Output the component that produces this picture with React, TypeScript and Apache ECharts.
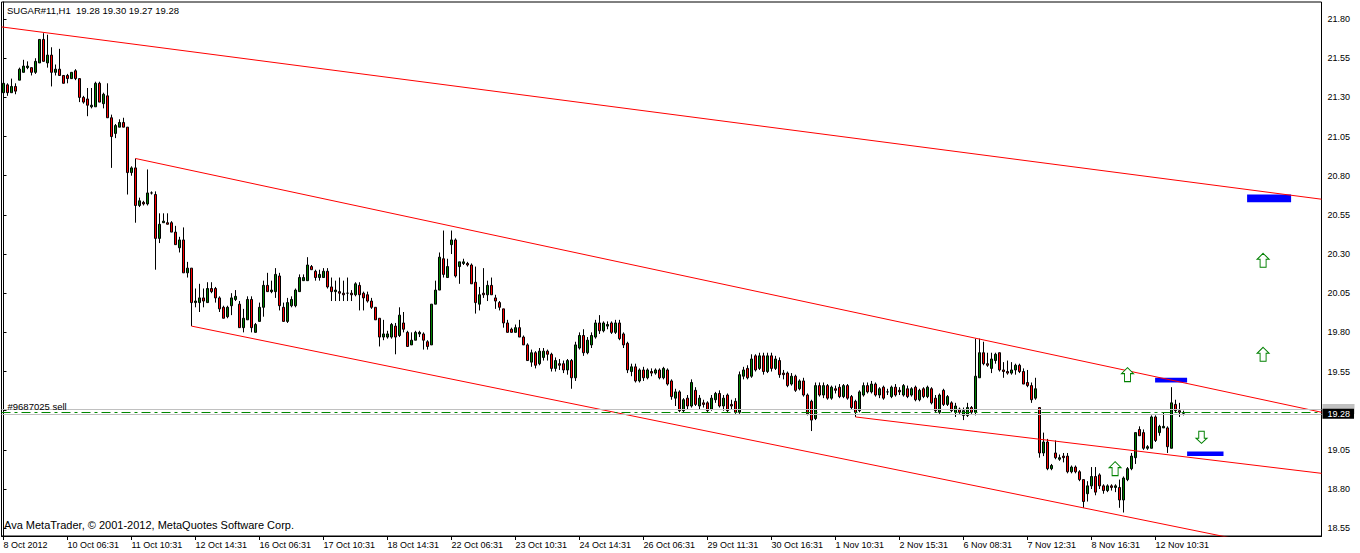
import React, { useEffect, useRef } from 'react';
import * as echarts from 'echarts';

const symbolName = 'SUGAR#11';
const period = 'H1';
const copyright = 'Ava MetaTrader, \u00a9 2001-2012, MetaQuotes Software Corp.';

// time labels, one every 16 hourly bars starting at bar 0
const tickLabels = [
  '8 Oct 2012', '10 Oct 06:31', '11 Oct 10:31', '12 Oct 14:31', '16 Oct 06:31', '17 Oct 10:31',
  '18 Oct 14:31', '22 Oct 06:31', '23 Oct 10:31', '24 Oct 14:31', '26 Oct 06:31', '29 Oct 11:31',
  '30 Oct 16:31', '1 Nov 10:31', '2 Nov 15:31', '6 Nov 08:31', '7 Nov 12:31', '8 Nov 16:31', '12 Nov 10:31',
];
const priceTicks = [18.55, 18.8, 19.05, 19.3, 19.55, 19.8, 20.05, 20.3, 20.55, 20.8, 21.05, 21.3, 21.55, 21.8];
const hiddenPriceLabels = [19.3];

// [open, high, low, close] hourly bars
const ohlc = [
  [21.33,21.41,21.31,21.39],[21.38,21.39,21.31,21.33],[21.33,21.42,21.33,21.37],[21.37,21.39,21.32,21.34],
  [21.41,21.49,21.41,21.48],[21.46,21.54,21.46,21.50],[21.49,21.53,21.48,21.50],[21.49,21.49,21.44,21.46],
  [21.46,21.55,21.45,21.53],[21.52,21.67,21.52,21.67],[21.67,21.71,21.53,21.53],[21.52,21.70,21.49,21.57],
  [21.57,21.62,21.37,21.46],[21.46,21.51,21.44,21.48],[21.48,21.61,21.44,21.44],[21.44,21.44,21.39,21.39],
  [21.44,21.45,21.39,21.42],[21.42,21.46,21.42,21.46],[21.47,21.48,21.41,21.42],[21.42,21.42,21.27,21.30],
  [21.30,21.31,21.26,21.27],[21.29,21.36,21.18,21.25],[21.24,21.36,21.23,21.25],[21.24,21.40,21.24,21.39],
  [21.39,21.40,21.27,21.27],[21.26,21.33,21.23,21.32],[21.31,21.39,21.17,21.17],[21.17,21.19,20.85,21.05],
  [21.07,21.13,21.04,21.12],[21.11,21.16,21.11,21.14],[21.14,21.17,21.11,21.11],[21.11,21.11,20.68,20.82],
  [20.82,20.86,20.80,20.85],[20.85,20.91,20.50,20.61],[20.61,20.66,20.60,20.64],[20.63,20.64,20.61,20.62],
  [20.62,20.84,20.61,20.69],[20.69,20.70,20.68,20.69],[20.68,20.70,20.20,20.40],[20.40,20.56,20.37,20.49],
  [20.50,20.56,20.50,20.51],[20.50,20.56,20.49,20.49],[20.50,20.51,20.44,20.44],[20.44,20.48,20.36,20.36],
  [20.34,20.41,20.31,20.39],[20.39,20.47,20.18,20.18],[20.18,20.25,20.15,20.21],[20.21,20.21,19.84,19.99],
  [19.99,20.08,19.96,20.00],[19.99,20.11,19.93,20.02],[20.02,20.08,19.96,20.00],[19.99,20.12,19.99,20.08],
  [20.08,20.12,20.05,20.06],[20.08,20.09,19.99,20.02],[20.02,20.03,19.93,19.95],[19.96,19.97,19.89,19.89],
  [19.90,19.97,19.89,19.96],[19.97,20.05,19.91,20.02],[20.01,20.07,20.00,20.03],[19.98,20.00,19.83,19.83],
  [19.83,19.95,19.80,19.89],[19.88,20.03,19.88,20.01],[20.01,20.03,19.80,19.83],[19.80,19.86,19.80,19.85],
  [19.87,19.99,19.87,19.96],[19.96,20.13,19.90,20.10],[20.10,20.18,20.06,20.06],[20.06,20.13,20.05,20.07],
  [20.06,20.21,20.02,20.17],[20.16,20.18,19.94,19.97],[19.96,19.99,19.87,19.87],[19.87,20.02,19.86,19.99],
  [19.97,20.03,19.96,20.01],[19.97,20.08,19.96,20.07],[20.06,20.17,20.06,20.15],[20.13,20.17,20.13,20.15],
  [20.13,20.28,20.13,20.23],[20.22,20.23,20.20,20.20],[20.19,20.20,20.13,20.15],[20.15,20.20,20.13,20.17],
  [20.15,20.21,20.15,20.19],[20.19,20.21,20.08,20.09],[20.09,20.15,20.00,20.06],[20.06,20.13,20.00,20.07],
  [20.06,20.15,20.00,20.05],[20.05,20.13,20.00,20.04],[20.05,20.15,20.00,20.05],[20.05,20.07,20.00,20.04],
  [20.04,20.12,20.03,20.11],[20.10,20.12,19.94,20.04],[20.05,20.06,19.94,20.02],[20.04,20.06,19.99,20.00],
  [20.00,20.02,19.95,19.96],[19.96,19.96,19.88,19.88],[19.89,19.89,19.71,19.77],[19.77,19.88,19.75,19.79],
  [19.77,19.81,19.76,19.79],[19.77,19.86,19.76,19.85],[19.84,19.86,19.66,19.77],[19.78,19.96,19.77,19.91],
  [19.86,19.93,19.80,19.82],[19.80,19.81,19.71,19.71],[19.72,19.80,19.72,19.75],[19.75,19.81,19.75,19.80],
  [19.79,19.81,19.77,19.80],[19.79,19.80,19.69,19.75],[19.74,19.75,19.69,19.71],[19.72,19.98,19.72,19.98],
  [19.98,20.13,19.98,20.07],[20.07,20.31,20.07,20.28],[20.27,20.45,20.15,20.17],[20.15,20.27,20.15,20.22],
  [20.36,20.45,20.30,20.39],[20.39,20.40,20.15,20.16],[20.22,20.25,20.11,20.25],[20.24,20.27,20.23,20.25],
  [20.24,20.25,20.22,20.23],[20.23,20.24,20.11,20.11],[20.12,20.22,19.92,19.99],[19.98,20.09,19.94,20.04],
  [20.05,20.21,20.02,20.04],[20.04,20.13,20.00,20.10],[20.10,20.15,20.04,20.04],[20.02,20.04,19.95,20.00],
  [19.99,20.00,19.94,19.96],[19.95,19.95,19.83,19.86],[19.86,19.88,19.80,19.80],[19.82,19.83,19.80,19.80],
  [19.80,19.85,19.80,19.83],[19.83,19.88,19.77,19.77],[19.77,19.78,19.72,19.72],[19.72,19.73,19.62,19.62],
  [19.61,19.69,19.58,19.67],[19.67,19.68,19.57,19.59],[19.60,19.70,19.59,19.68],[19.64,19.70,19.62,19.68],
  [19.68,19.69,19.62,19.66],[19.66,19.67,19.55,19.57],[19.57,19.64,19.55,19.62],[19.60,19.63,19.56,19.59],
  [19.60,19.62,19.54,19.56],[19.56,19.63,19.53,19.62],[19.62,19.63,19.44,19.51],[19.51,19.74,19.49,19.72],
  [19.70,19.80,19.69,19.78],[19.78,19.82,19.65,19.67],[19.67,19.77,19.66,19.75],[19.72,19.80,19.70,19.78],
  [19.77,19.88,19.76,19.86],[19.86,19.91,19.79,19.81],[19.81,19.87,19.80,19.86],[19.84,19.87,19.82,19.85],
  [19.86,19.87,19.79,19.80],[19.80,19.88,19.79,19.86],[19.86,19.88,19.75,19.76],[19.79,19.80,19.70,19.72],
  [19.73,19.74,19.54,19.56],[19.55,19.60,19.52,19.58],[19.58,19.60,19.48,19.49],[19.49,19.57,19.48,19.56],
  [19.56,19.58,19.49,19.51],[19.51,19.57,19.50,19.56],[19.55,19.57,19.52,19.54],[19.54,19.57,19.53,19.56],
  [19.56,19.57,19.50,19.51],[19.51,19.58,19.50,19.57],[19.56,19.57,19.46,19.47],[19.49,19.50,19.37,19.39],
  [19.38,19.44,19.33,19.42],[19.42,19.43,19.29,19.30],[19.30,19.38,19.29,19.37],[19.38,19.40,19.31,19.33],
  [19.33,19.50,19.32,19.48],[19.43,19.45,19.33,19.34],[19.33,19.40,19.31,19.38],[19.35,19.37,19.32,19.34],
  [19.35,19.36,19.29,19.30],[19.31,19.40,19.30,19.38],[19.37,19.42,19.35,19.41],[19.41,19.43,19.32,19.33],
  [19.33,19.40,19.30,19.38],[19.40,19.41,19.29,19.30],[19.34,19.37,19.31,19.33],[19.36,19.38,19.28,19.29],
  [19.29,19.55,19.28,19.53],[19.52,19.58,19.50,19.56],[19.57,19.59,19.50,19.51],[19.52,19.66,19.51,19.63],
  [19.65,19.66,19.55,19.56],[19.57,19.67,19.56,19.65],[19.65,19.67,19.53,19.55],[19.55,19.67,19.54,19.65],
  [19.65,19.67,19.55,19.57],[19.57,19.65,19.56,19.63],[19.62,19.64,19.51,19.53],[19.54,19.56,19.50,19.53],
  [19.54,19.55,19.45,19.46],[19.47,19.54,19.46,19.52],[19.52,19.53,19.42,19.43],[19.44,19.50,19.43,19.49],
  [19.49,19.51,19.39,19.40],[19.40,19.41,19.27,19.28],[19.36,19.37,19.17,19.24],[19.25,19.48,19.24,19.46],
  [19.46,19.48,19.39,19.40],[19.40,19.48,19.38,19.46],[19.46,19.47,19.37,19.38],[19.38,19.46,19.37,19.45],
  [19.44,19.46,19.41,19.43],[19.45,19.47,19.38,19.39],[19.39,19.47,19.38,19.46],[19.46,19.47,19.37,19.38],
  [19.39,19.40,19.31,19.32],[19.36,19.37,19.26,19.29],[19.30,19.43,19.29,19.42],[19.40,19.48,19.39,19.46],
  [19.46,19.48,19.41,19.42],[19.42,19.49,19.41,19.47],[19.47,19.48,19.39,19.40],[19.40,19.45,19.38,19.44],
  [19.45,19.46,19.37,19.38],[19.42,19.44,19.40,19.42],[19.39,19.46,19.38,19.45],[19.45,19.47,19.39,19.40],
  [19.43,19.45,19.40,19.42],[19.40,19.47,19.39,19.46],[19.44,19.46,19.38,19.39],[19.40,19.45,19.39,19.44],
  [19.45,19.46,19.36,19.37],[19.37,19.44,19.36,19.43],[19.44,19.45,19.38,19.39],[19.39,19.46,19.38,19.45],
  [19.44,19.45,19.34,19.35],[19.38,19.40,19.29,19.30],[19.29,19.41,19.28,19.40],[19.43,19.44,19.33,19.34],
  [19.34,19.40,19.33,19.39],[19.35,19.36,19.29,19.30],[19.29,19.35,19.26,19.33],[19.31,19.32,19.28,19.29],
  [19.27,19.32,19.24,19.30],[19.27,19.35,19.26,19.32],[19.32,19.33,19.28,19.29],[19.29,19.76,19.27,19.52],
  [19.51,19.76,19.51,19.67],[19.67,19.74,19.59,19.60],[19.60,19.67,19.58,19.59],[19.57,19.67,19.54,19.63],
  [19.62,19.67,19.60,19.66],[19.67,19.67,19.55,19.56],[19.56,19.61,19.51,19.55],[19.55,19.62,19.53,19.54],
  [19.54,19.61,19.53,19.56],[19.56,19.60,19.53,19.59],[19.59,19.60,19.54,19.55],[19.55,19.57,19.47,19.47],
  [19.48,19.56,19.45,19.46],[19.46,19.48,19.35,19.37],[19.38,19.51,19.37,19.44],[19.32,19.32,19.00,19.03],
  [19.03,19.16,19.01,19.10],[19.10,19.12,18.92,18.93],[18.93,18.96,18.92,18.95],[19.03,19.11,18.99,19.00],
  [18.99,19.02,18.98,19.00],[19.01,19.03,18.97,19.00],[19.01,19.03,18.90,18.91],[18.91,18.95,18.90,18.94],
  [18.94,18.95,18.90,18.91],[18.91,18.92,18.85,18.86],[18.86,18.86,18.68,18.72],[18.77,18.85,18.72,18.82],
  [18.82,18.94,18.80,18.88],[18.88,18.94,18.76,18.78],[18.89,18.90,18.80,18.82],[18.82,18.83,18.77,18.79],
  [18.79,18.83,18.78,18.82],[18.82,18.83,18.79,18.81],[18.81,18.83,18.78,18.82],[18.81,18.86,18.68,18.73],
  [18.73,18.88,18.65,18.87],[18.86,18.94,18.85,18.93],[18.93,19.03,18.92,19.01],[19.00,19.16,18.96,19.16],
  [19.18,19.20,19.14,19.14],[19.16,19.18,19.05,19.06],[19.06,19.08,19.05,19.07],[19.06,19.27,19.06,19.26],
  [19.26,19.27,19.10,19.11],[19.16,19.21,19.14,19.20],[19.19,19.29,19.19,19.20],[19.19,19.20,19.03,19.07],
  [19.06,19.45,19.06,19.35],[19.34,19.37,19.29,19.30],[19.30,19.35,19.26,19.29],[19.28,19.30,19.27,19.28],
];

// bar slots on the time axis (bars plus empty space on the right)
const slotCount = 330;

// trend lines: [barIndex, price] pairs
const channelLines = [
  [[-0.5, 21.75], [329.5, 20.65]],
  [[33, 20.91], [329.5, 19.29]],
  [[47, 19.84], [329.5, 18.37]],
  [[213, 19.26], [329.5, 18.9]],
];
// rectangles: [barFrom, priceTop, barTo, priceBottom]
const boxes = [
  [310.9, 20.68, 321.9, 20.63],
  [287.9, 19.51, 295.9, 19.48],
  [295.9, 19.04, 305.0, 19.01],
];
const upArrows = [[281, 19.53], [277.9, 18.93], [314.9, 20.26], [314.9, 19.66]];
const downArrows = [[299.5, 19.13]];

const bidPrice = 19.28;
const askPrice = 19.31;
const orderPrice = 19.29;
const orderLabel = '#9687025 sell';

const font = "'Liberation Sans', Arial, sans-serif";

export default function App() {
  const ref = useRef<HTMLDivElement>(null);
  useEffect(() => {
    if (!ref.current) return;
    const chart = echarts.init(ref.current, null, { renderer: 'svg' });
    const last = ohlc[ohlc.length - 1];
    const header = `${symbolName},${period}  ${last.map((v) => v.toFixed(2)).join(' ')}`;
    const categories = Array.from({ length: slotCount }, (_, i) => String(i));
    const showTick = (i: number) => i % 16 === 0 && i / 16 < tickLabels.length;
    const labelValues = priceTicks.filter((v) => !hiddenPriceLabels.some((h) => Math.abs(h - v) < 1e-6));

    const option: any = {
      animation: false,
      backgroundColor: '#fff',
      title: [
        {
          text: header, left: 7, top: 5, padding: 0,
          textStyle: { fontSize: 9.5, fontWeight: 'normal', color: '#000', fontFamily: font },
        },
        {
          text: copyright, left: 4, top: 519, padding: 0,
          textStyle: { fontSize: 11, fontWeight: 'normal', color: '#000', fontFamily: font },
        },
      ],
      grid: {
        left: 1.5, right: 38.5, top: 2, bottom: 17, show: true,
        borderColor: '#000', borderWidth: 1, backgroundColor: '#fff',
        containLabel: false, outerBoundsMode: 'none',
      },
      xAxis: [
        {
          type: 'category', data: categories, boundaryGap: true,
          axisLine: { show: true, lineStyle: { color: '#000', width: 1 } },
          axisTick: {
            show: true, alignWithLabel: true, length: 4,
            interval: (i: number) => showTick(i), lineStyle: { color: '#000' },
          },
          axisLabel: {
            interval: (i: number) => showTick(i),
            formatter: (v: string) => tickLabels[Number(v) / 16] ?? '',
            align: 'left', margin: 4, fontSize: 9, color: '#000', fontFamily: font,
          },
          splitLine: { show: false },
        },
        { type: 'value', min: -0.5, max: slotCount - 0.5, show: false },
      ],
      yAxis: {
        type: 'value', position: 'right', min: 18.5, max: 21.909, scale: true,
        axisLine: { show: true, lineStyle: { color: '#000' } },
        axisTick: { show: true, length: 3, customValues: priceTicks, lineStyle: { color: '#000' } },
        axisLabel: {
          customValues: labelValues, formatter: (v: number) => v.toFixed(2),
          margin: 6, fontSize: 9, color: '#000', fontFamily: font,
        },
        splitLine: { show: false },
      },
      series: [
        {
          type: 'line', xAxisIndex: 1, data: [], z: 1, silent: true,
          markLine: {
            silent: true, symbol: ['none', 'none'], animation: false,
            data: [
              {
                yAxis: orderPrice,
                lineStyle: { color: '#008800', width: 1, type: [9, 4, 3, 4] },
                label: {
                  show: true, position: 'insideStartTop', formatter: orderLabel, distance: [6, 1],
                  fontSize: 9.5, color: '#000', fontFamily: font,
                },
              },
              {
                yAxis: askPrice,
                lineStyle: { color: '#c0c0c0', width: 1, type: 'solid' },
                label: {
                  show: true, position: 'end', distance: 1, formatter: '{b|}',
                  rich: { b: { width: 32, height: 10, backgroundColor: '#c0c0c0' } },
                },
              },
              {
                yAxis: bidPrice,
                lineStyle: { color: '#c0c0c0', width: 1, type: 'solid' },
                label: {
                  show: true, position: 'end', distance: 1, formatter: bidPrice.toFixed(2),
                  backgroundColor: '#000', color: '#fff', padding: [0, 4, 0, 5], lineHeight: 10,
                  fontSize: 9, fontFamily: font,
                },
              },
            ],
          },
        },
        {
          type: 'candlestick', xAxisIndex: 0, z: 2, clip: false, barWidth: 2,
          data: ohlc.map(([o, h, l, c]) => [o, c, l, h]),
          itemStyle: {
            color: '#008000', color0: '#ff0000',
            borderColor: '#000', borderColor0: '#000', borderWidth: 1,
          },
        },
        ...channelLines.map((pts) => ({
          type: 'line', xAxisIndex: 1, z: 3, silent: true, symbol: 'none',
          data: pts, lineStyle: { color: '#ff0000', width: 1 },
        })),
        {
          type: 'scatter', xAxisIndex: 1, z: 4, data: [], silent: true,
          markArea: {
            silent: true,
            itemStyle: { color: '#0000ff', opacity: 1 },
            data: boxes.map(([x1, y1, x2, y2]) => [{ coord: [x1, y1] }, { coord: [x2, y2] }]),
          },
        },
        {
          type: 'scatter', xAxisIndex: 1, z: 5, silent: true, data: upArrows,
          symbol: 'path://M6,0L12,6L9,6L9,14L3,14L3,6L0,6Z', symbolSize: [12, 14],
          itemStyle: { color: '#fff', borderColor: '#008000', borderWidth: 1, opacity: 1 },
        },
        {
          type: 'scatter', xAxisIndex: 1, z: 5, silent: true, data: downArrows,
          symbol: 'path://M3,0L9,0L9,8L12,8L6,14L0,8L3,8Z', symbolSize: [11, 12],
          itemStyle: { color: '#fff', borderColor: '#008000', borderWidth: 1, opacity: 1 },
        },
      ],
    };
    chart.setOption(option);
    return () => chart.dispose();
  }, []);
  return (
    <div
      ref={ref}
      style={{ position: 'fixed', left: 0, top: 0, width: 1360, height: 553, background: '#fff' }}
    />
  );
}
